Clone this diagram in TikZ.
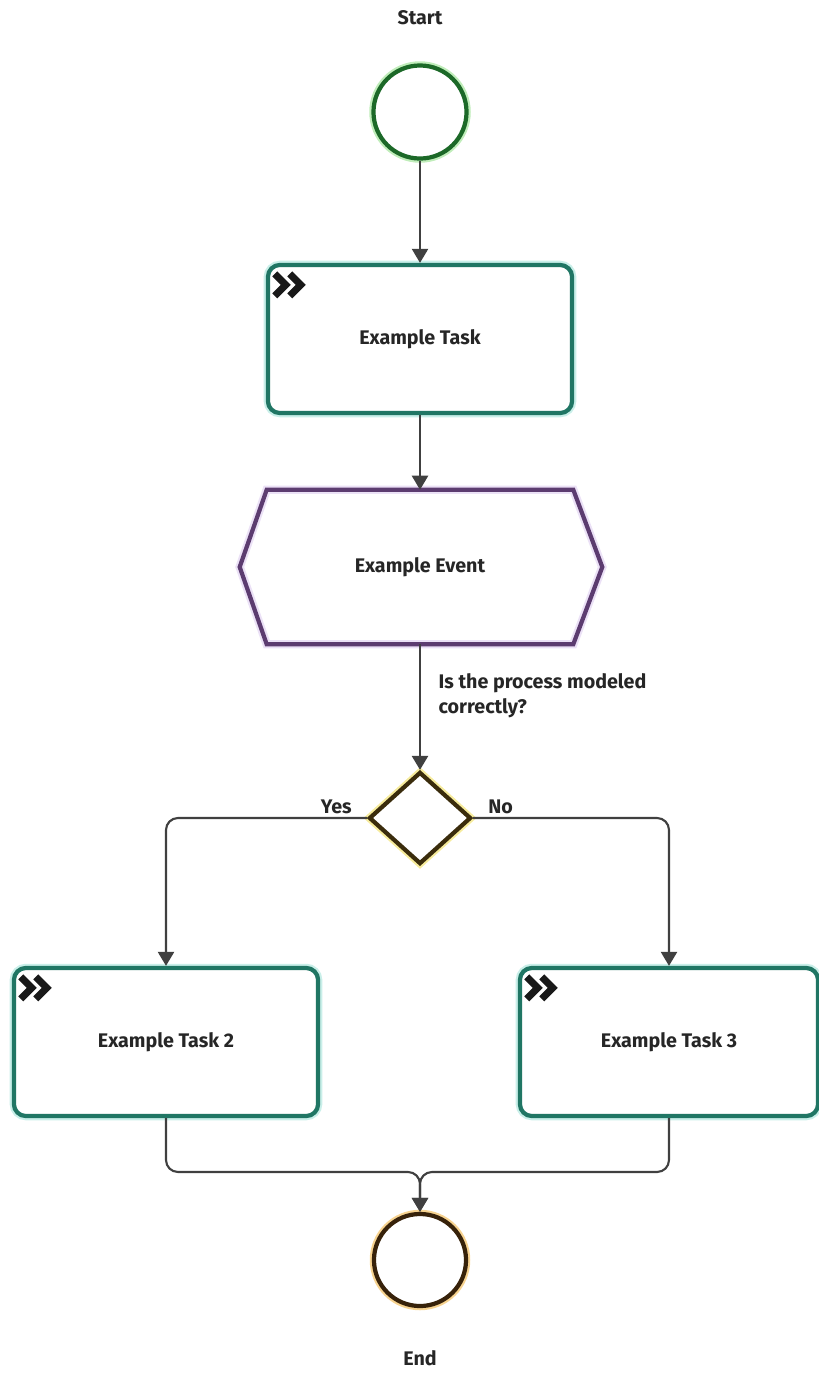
\documentclass[tikz,border=0pt]{standalone}
\usepackage{fontspec}
\setmainfont{Fira Sans}
\usetikzlibrary{shapes.geometric,positioning,arrows.meta}

\definecolor{startgreen}{RGB}{28,105,40}
\definecolor{startglow}{RGB}{150,225,140}
\definecolor{taskteal}{RGB}{32,118,100}
\definecolor{taskglow}{RGB}{165,228,218}
\definecolor{evpurple}{RGB}{92,60,112}
\definecolor{evglow}{RGB}{222,205,240}
\definecolor{gwbrown}{RGB}{58,44,12}
\definecolor{gwglow}{RGB}{240,222,90}
\definecolor{endbrown}{RGB}{55,34,10}
\definecolor{endglow}{RGB}{242,182,70}

\tikzset{
  txt/.style={font=\fontsize{5.6}{7.1}\selectfont\bfseries, text=black!85},
  lbl/.style={txt, inner sep=0pt},
  glow/.style={preaction={draw=#1, line width=2.4pt, opacity=0.6}},
  startev/.style={circle, draw=startgreen, line width=1.2pt, minimum size=0.93cm,
    inner sep=0pt, fill=white, glow=startglow},
  endev/.style={circle, draw=endbrown, line width=1.2pt, minimum size=0.92cm,
    inner sep=0pt, fill=white, glow=endglow},
  taskbox/.style={rectangle, rounded corners=3.4pt, draw=taskteal, line width=1.2pt,
    minimum width=3.04cm, minimum height=1.48cm, fill=white, glow=taskglow, txt},
  evbox/.style={rectangle, minimum width=3.05cm, minimum height=1.53cm, txt},
  evline/.style={draw=evpurple, line width=1.2pt, line join=miter, glow=evglow},
  gateway/.style={diamond, draw=gwbrown, line width=1.2pt, minimum width=1.02cm,
    minimum height=0.92cm, inner sep=0pt, fill=white, glow=gwglow},
  flow/.style={draw=black!75, line width=0.6pt, -{Triangle[length=4pt,width=4.6pt]}},
  chevrons/.pic={
    \draw[line width=2pt, line join=miter, black!90]
      (0,0) -- (11,11) -- (0,22)
      (15,0) -- (26,11) -- (15,22);
  }
}

\begin{document}
\begin{tikzpicture}[x=0.01cm, y=-0.01cm]
  \useasboundingbox (0,0) rectangle (819,1381);

  % Events
  \node[startev] (st) at (420,112) {};
  \node[lbl, above=0.38cm of st] (stlbl) {Start};
  \node[endev] (en) at (420,1260) {};
  \node[lbl, below=0.42cm of en] (enlbl) {End};

  % Tasks
  \node[taskbox] (t1) at (420,339) {Example Task};
  \node[taskbox] (t2) at (166,1042) {Example Task 2};
  \node[taskbox, minimum width=2.98cm] (t3) at (669,1042) {Example Task 3};
  \foreach \t in {t1,t2,t3}
    \pic at ([shift={(9,11)}]\t.north west) {chevrons};

  % Intermediate event (hexagon)
  \node[evbox] (ev) at (420,567) {Example Event};
  \draw[evline] (ev.north west) -- (ev.north east) -- ([xshift=0.29cm]ev.east)
    -- (ev.south east) -- (ev.south west) -- ([xshift=-0.27cm]ev.west) -- cycle;

  % Gateway
  \node[gateway] (gw) at (420,818) {};

  % Flows
  \draw[flow] (st.south) -- (t1.north);
  \draw[flow] (t1.south) -- (ev.north);
  \draw[flow] (ev.south) -- node[lbl, pos=0.41, anchor=west, xshift=5pt, align=left]
    {Is the process modeled\\correctly?} (gw.north);
  \draw[flow, rounded corners=3.4pt] (gw.west) -| node[lbl, pos=0, anchor=south east,
    xshift=-4pt, yshift=1pt] {Yes} (t2.north);
  \draw[flow, rounded corners=3.4pt] (gw.east) -| node[lbl, pos=0, anchor=south west,
    xshift=4pt, yshift=1pt] {No} (t3.north);

  % Merge into end
  \coordinate (mrg) at (420,1172);
  \draw[flow, rounded corners=3.4pt] (t2.south) |- (mrg) -- (en.north);
  \draw[flow, rounded corners=3.4pt] (t3.south) |- (mrg) -- (en.north);
\end{tikzpicture}
\end{document}
